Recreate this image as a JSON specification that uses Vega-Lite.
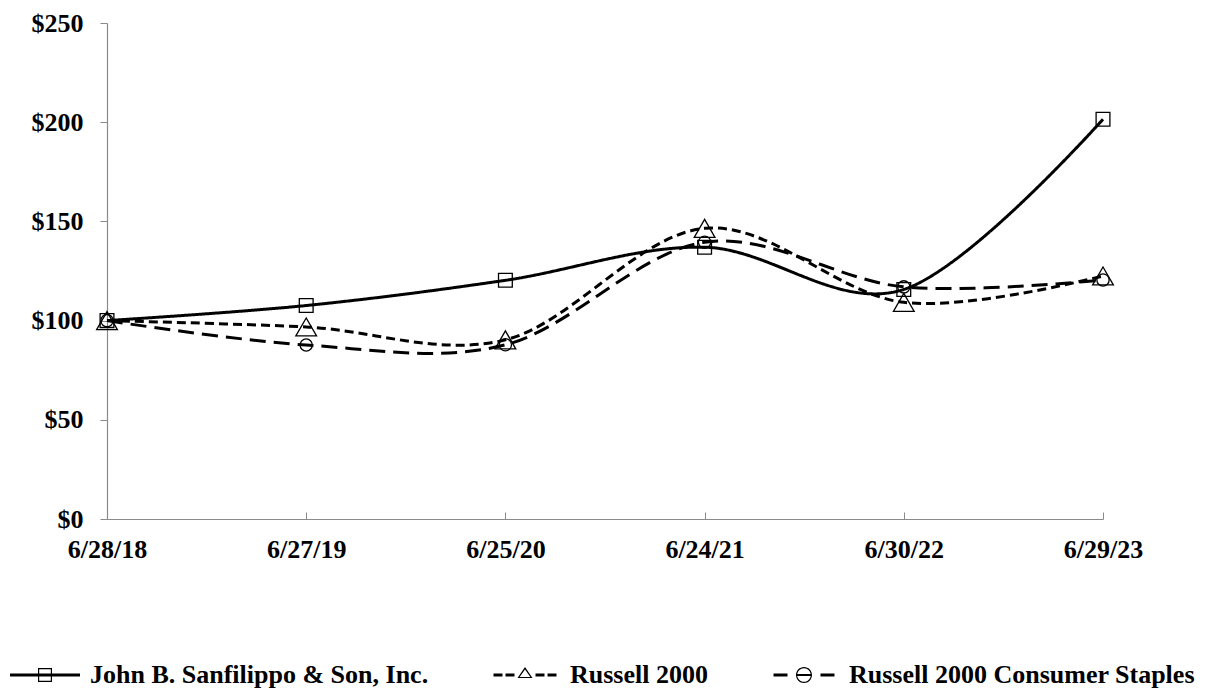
{
  "$schema": "https://vega.github.io/schema/vega-lite/v6.json",
  "width": 996,
  "height": 496,
  "autosize": {"type": "none"},
  "padding": {"left": 107, "top": 23, "right": 105, "bottom": 170},
  "background": "white",
  "config": {
    "view": {"stroke": null},
    "font": "Liberation Serif",
    "axis": {"labelFont": "Liberation Serif", "labelFontWeight": "bold", "labelFontSize": 26, "labelColor": "black", "domainColor": "#8a8a8a", "tickColor": "#8a8a8a", "grid": false, "title": null}
  },
  "data": {
    "values": [
      {"date": "6/28/18", "series": "John B. Sanfilippo & Son, Inc.", "value": 100},
      {"date": "6/27/19", "series": "John B. Sanfilippo & Son, Inc.", "value": 107.6},
      {"date": "6/25/20", "series": "John B. Sanfilippo & Son, Inc.", "value": 120.3},
      {"date": "6/24/21", "series": "John B. Sanfilippo & Son, Inc.", "value": 137},
      {"date": "6/30/22", "series": "John B. Sanfilippo & Son, Inc.", "value": 115.7},
      {"date": "6/29/23", "series": "John B. Sanfilippo & Son, Inc.", "value": 201.5},
      {"date": "6/28/18", "series": "Russell 2000", "value": 100},
      {"date": "6/27/19", "series": "Russell 2000", "value": 96.8},
      {"date": "6/25/20", "series": "Russell 2000", "value": 90.3},
      {"date": "6/24/21", "series": "Russell 2000", "value": 146.5},
      {"date": "6/30/22", "series": "Russell 2000", "value": 109.2},
      {"date": "6/29/23", "series": "Russell 2000", "value": 122.5},
      {"date": "6/28/18", "series": "Russell 2000 Consumer Staples", "value": 100},
      {"date": "6/27/19", "series": "Russell 2000 Consumer Staples", "value": 87.7},
      {"date": "6/25/20", "series": "Russell 2000 Consumer Staples", "value": 87.8},
      {"date": "6/24/21", "series": "Russell 2000 Consumer Staples", "value": 139.5},
      {"date": "6/30/22", "series": "Russell 2000 Consumer Staples", "value": 117},
      {"date": "6/29/23", "series": "Russell 2000 Consumer Staples", "value": 120.5}
    ]
  },
  "encoding": {
    "x": {"field": "date", "type": "ordinal", "sort": null,
      "scale": {"type": "point", "padding": 0},
      "axis": {"labelAngle": 0, "tickSize": -7, "labelPadding": 24, "domainWidth": 1.2}},
    "y": {"field": "value", "type": "quantitative",
      "scale": {"domain": [0, 250], "nice": false, "zero": true},
      "axis": {"values": [0, 50, 100, 150, 200, 250], "format": "$.0f", "tickSize": 7, "labelPadding": 17, "domainWidth": 1.2}}
  },
  "layer": [
    {
      "mark": {"type": "line", "interpolate": "cardinal", "color": "black", "strokeWidth": 3},
      "encoding": {
        "detail": {"field": "series"},
        "strokeDash": {"field": "series", "type": "nominal",
          "scale": {"domain": ["John B. Sanfilippo & Son, Inc.", "Russell 2000", "Russell 2000 Consumer Staples"], "range": [[1, 0], [9, 5], [16, 8]]},
          "legend": null}
      }
    },
    {
      "transform": [{"filter": "datum.series === 'John B. Sanfilippo & Son, Inc.'"}],
      "mark": {"type": "point", "shape": "square", "size": 190, "filled": false, "color": "black", "strokeWidth": 1.3, "opacity": 1}
    },
    {
      "transform": [{"filter": "datum.series === 'Russell 2000'"}],
      "mark": {"type": "point", "shape": "triangle-up", "size": 430, "filled": false, "color": "black", "strokeWidth": 1.3, "opacity": 1}
    },
    {
      "transform": [{"filter": "datum.series === 'Russell 2000 Consumer Staples'"}],
      "mark": {"type": "point", "shape": "circle", "size": 150, "filled": false, "color": "black", "strokeWidth": 1.3, "opacity": 1}
    },
    {
      "mark": {"type": "point", "filled": true, "color": "black", "opacity": 0, "size": 4900},
      "encoding": {
        "shape": {"field": "series", "type": "nominal",
          "scale": {"domain": ["John B. Sanfilippo & Son, Inc.", "Russell 2000", "Russell 2000 Consumer Staples"],
            "range": [
              "M-1,-0.043H1V0.043H-1Z M-0.2,-0.2H0.2V0.2H-0.2Z M-0.166,-0.166V0.166H0.166V-0.166Z",
              "M-0.9,-0.043H-0.643V0.043H-0.9Z M-0.557,-0.043H-0.3V0.043H-0.557Z M0.3,-0.043H0.557V0.043H0.3Z M0.643,-0.043H0.9V0.043H0.643Z M0,-0.229L0.214,0.086L-0.214,0.086Z M0,-0.157L-0.154,0.054L0.154,0.054Z",
              "M-0.871,-0.043H-0.471V0.043H-0.871Z M0.471,-0.043H0.871V0.043H0.471Z M-0.229,0A0.229,0.229 0 1 1 0.229,0A0.229,0.229 0 1 1 -0.229,0Z M-0.194,0A0.194,0.194 0 1 0 0.194,0A0.194,0.194 0 1 0 -0.194,0Z M-0.194,-0.03H0.194V0.03H-0.194Z"
            ]},
          "legend": {
            "orient": "none", "legendX": -97, "legendY": 617,
            "direction": "horizontal", "columns": 3, "columnPadding": 61,
            "title": null, "padding": 0,
            "symbolSize": 4900, "symbolOpacity": 1, "symbolFillColor": "black", "symbolStrokeWidth": 0, "symbolStrokeColor": "transparent",
            "labelFont": "Liberation Serif", "labelFontWeight": "bold", "labelFontSize": 26, "labelColor": "black", "labelOffset": 10, "labelLimit": 600
          }
        }
      }
    }
  ],
  "resolve": {"scale": {"shape": "independent"}, "legend": {"shape": "independent"}}
}
